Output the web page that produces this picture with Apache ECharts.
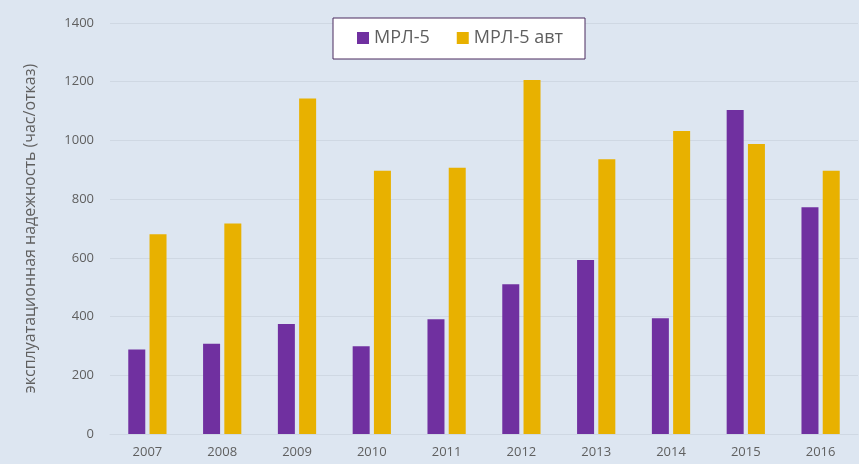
<!doctype html>
<html lang="ru">
<head>
  <meta charset="UTF-8">
  <title>МРЛ-5</title>
  <script src="https://cdn.jsdelivr.net/npm/echarts@6/dist/echarts.min.js"></script>
  <style>
    html, body { margin: 0; padding: 0; background: #dde6f1; }
    #chart { width: 859px; height: 464px; }
  </style>
</head>
<body>
<div id="chart"></div>
<script>
  var years = ['2007', '2008', '2009', '2010', '2011', '2012', '2013', '2014', '2015', '2016'];
  var mrl5 = [288, 307, 375, 299, 391, 510, 593, 394, 1104, 772];
  var mrl5avt = [680, 717, 1143, 897, 907, 1206, 936, 1032, 988, 897];
  var yTicks = [0, 200, 400, 600, 800, 1000, 1200, 1400];

  var chart = echarts.init(document.getElementById('chart'));
  var option = {
    backgroundColor: '#dde6f1',
    textStyle: { fontFamily: 'Open Sans, Noto Sans, sans-serif' },
    legend: {
      left: 333,
      top: 18,
      padding: [11, 22, 12, 24],
      backgroundColor: '#ffffff',
      borderColor: '#4b2a5e',
      borderWidth: 1,
      borderRadius: 0,
      icon: 'rect',
      itemWidth: 12,
      itemHeight: 12,
      itemGap: 27,
      textStyle: { color: '#5f5f5f', fontSize: 18 },
      data: ['МРЛ-5', 'МРЛ-5 авт']
    },
    grid: { left: 110, right: 1, top: 23, bottom: 30 },
    xAxis: {
      type: 'category',
      data: years,
      axisLine: { show: true, lineStyle: { color: '#cfd8e3' } },
      axisTick: { show: false },
      axisLabel: { color: '#5f5f5f', fontSize: 13, margin: 12 }
    },
    yAxis: {
      type: 'value',
      min: yTicks[0],
      max: yTicks[yTicks.length - 1],
      interval: 200,
      name: 'эксплуатационная надежность (час/отказ)',
      nameLocation: 'middle',
      nameGap: 72,
      nameTextStyle: { color: '#5f5f5f', fontSize: 16 },
      axisLine: { show: false },
      axisTick: { show: false },
      axisLabel: {
        color: '#5f5f5f',
        fontSize: 13,
        margin: 16,
        formatter: function (v) { return String(v); }
      },
      splitLine: { lineStyle: { color: '#cfd8e3', width: 1 } }
    },
    series: [
      {
        name: 'МРЛ-5',
        type: 'bar',
        data: mrl5,
        barWidth: 17,
        barGap: '25%',
        itemStyle: { color: '#7030a0' }
      },
      {
        name: 'МРЛ-5 авт',
        type: 'bar',
        data: mrl5avt,
        barWidth: 17,
        itemStyle: { color: '#e8b100' }
      }
    ]
  };
  chart.setOption(option);
</script>
</body>
</html>
